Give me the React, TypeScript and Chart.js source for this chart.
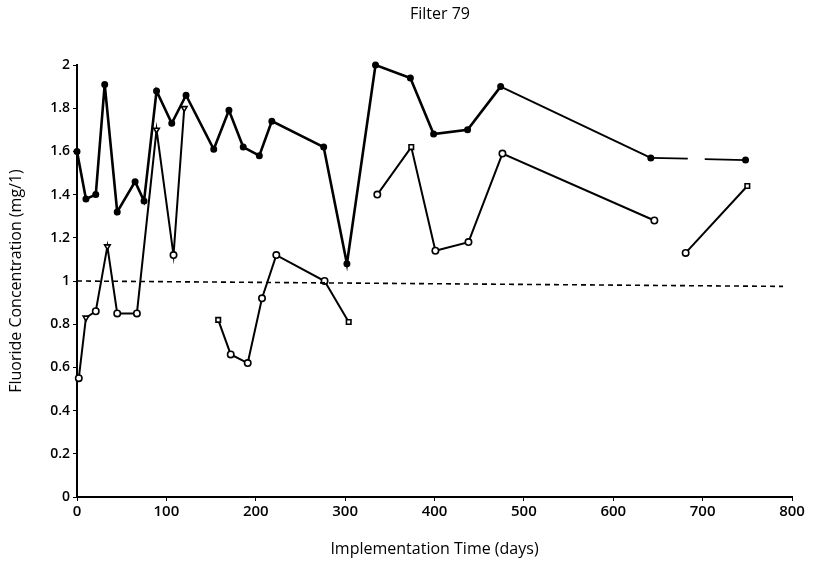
import React, { useEffect, useRef } from "react";
import { Chart, registerables } from "chart.js";

Chart.register(...registerables);

const titleText = "Filter 79";
const xTitle = "Implementation Time (days)";
const yTitle = "Fluoride Concentration (mg/1)";

// Upper (filled circles) series
const topDays = [0, 10, 21, 31, 45, 65, 75, 89, 106, 122, 153, 170, 186, 204, 218, 276, 302, 334, 373, 399, 437, 474, 642, 748];
const topValues = [1.6, 1.38, 1.4, 1.91, 1.32, 1.46, 1.37, 1.88, 1.73, 1.86, 1.61, 1.79, 1.62, 1.58, 1.74, 1.62, 1.08, 2.0, 1.94, 1.68, 1.7, 1.9, 1.57, 1.56];

// Lower (hollow markers) series, in four separate runs
const lowADays = [2, 10, 21, 34, 45, 67, 89, 108, 120];
const lowAValues = [0.55, 0.83, 0.86, 1.16, 0.85, 0.85, 1.7, 1.12, 1.8];
const lowAShapes = ["circle", "triangle", "circle", "triangle", "circle", "circle", "triangle", "circle", "triangle"];

const lowBDays = [158, 172, 191, 207, 223, 277, 304];
const lowBValues = [0.82, 0.66, 0.62, 0.92, 1.12, 1.0, 0.81];
const lowBShapes = ["rect", "circle", "circle", "circle", "circle", "circle", "rect"];

const lowCDays = [336, 374, 401, 438, 476, 646];
const lowCValues = [1.4, 1.62, 1.14, 1.18, 1.59, 1.28];
const lowCShapes = ["circle", "rect", "circle", "circle", "circle", "circle"];

const lowDDays = [681, 750];
const lowDValues = [1.13, 1.44];
const lowDShapes = ["circle", "rect"];

// Reference level (dashed)
const refDays = [0, 790];
const refValues = [1.0, 0.975];

const toPts = (xs: number[], ys: number[]) => xs.map((x, i) => ({ x, y: ys[i] }));

export default function App() {
  const ref = useRef<HTMLCanvasElement | null>(null);

  useEffect(() => {
    if (!ref.current) return;
    const hollow = (days: number[], vals: number[], shapes: string[]) => ({
      data: toPts(days, vals),
      borderColor: "#000",
      borderWidth: 2,
      pointStyle: shapes,
      pointRotation: shapes.map((s) => (s === "triangle" ? 180 : 0)),
      pointRadius: 3.2,
      pointBackgroundColor: "#fff",
      pointBorderColor: "#000",
      pointBorderWidth: 1.6,
      tension: 0,
    });

    const titlePlugin = {
      id: "topTitle",
      afterDraw(chart: any) {
        const c = chart.ctx;
        c.save();
        c.fillStyle = "#000";
        c.font = "16px 'Open Sans'";
        c.textAlign = "center";
        c.textBaseline = "middle";
        c.fillText(titleText, 440, 14);
        c.restore();
      },
    };

    const chart = new Chart(ref.current, {
      type: "line",
      data: {
        datasets: [
          {
            data: toPts(refDays, refValues),
            borderColor: "#000",
            borderWidth: 1.6,
            borderDash: [5, 4],
            pointRadius: 0,
          },
          {
            data: toPts(topDays, topValues),
            borderColor: "#000",
            borderWidth: 2.6,
            pointRadius: 2.2,
            pointBackgroundColor: "#000",
            pointBorderColor: "#000",
            tension: 0,
            segment: {
              borderWidth: (ctx: any) => (ctx.p0DataIndex >= 21 ? 1.8 : 2.6),
              borderDash: (ctx: any) => (ctx.p0DataIndex === 22 ? [37, 17, 1000, 0] : undefined),
            },
          } as any,
          hollow(lowADays, lowAValues, lowAShapes),
          hollow(lowBDays, lowBValues, lowBShapes),
          hollow(lowCDays, lowCValues, lowCShapes),
          hollow(lowDDays, lowDValues, lowDShapes),
        ] as any,
      },
      options: {
        responsive: false,
        animation: false,
        clip: false as any,
        layout: { padding: { top: 65, right: 25, left: 0, bottom: 0 } },
        plugins: {
          legend: { display: false },
          title: { display: false },
          tooltip: { enabled: false },
        },
        scales: {
          x: {
            type: "linear",
            min: 0,
            max: 800,
            ticks: {
              stepSize: 100,
              color: "#000",
              font: { family: "'Open Sans'", size: 15, weight: "600" as any },
              padding: 2,
              maxRotation: 0,
            },
            grid: { drawOnChartArea: false, drawTicks: true, tickLength: 4, color: "#000" },
            border: { display: true, color: "#000", width: 2 },
            title: {
              display: true,
              text: xTitle,
              color: "#000",
              font: { family: "'Open Sans'", size: 16 },
              padding: { top: 0, bottom: 3 },
            },
            afterFit: (s: any) => {
              s.height = 65;
            },
          },
          y: {
            type: "linear",
            min: 0,
            max: 2,
            ticks: {
              stepSize: 0.2,
              color: "#000",
              font: { family: "'Open Sans'", size: 14, weight: "600" as any },
              padding: 3,
              callback: (v: any) => String(Number(Number(v).toFixed(1))),
            },
            grid: { drawOnChartArea: false, drawTicks: true, tickLength: 4, color: "#000" },
            border: { display: true, color: "#000", width: 2 },
            title: {
              display: true,
              text: yTitle,
              color: "#000",
              font: { family: "'Open Sans'", size: 16 },
              padding: { top: 7, bottom: 0 },
            },
            afterFit: (s: any) => {
              s.width = 77;
            },
          },
        },
      },
      plugins: [titlePlugin],
    });
    return () => chart.destroy();
  }, []);

  return (
    <div style={{ position: "absolute", left: 0, top: 0, width: 817, height: 562, background: "#fff" }}>
      <canvas ref={ref} width={817} height={562} />
    </div>
  );
}
